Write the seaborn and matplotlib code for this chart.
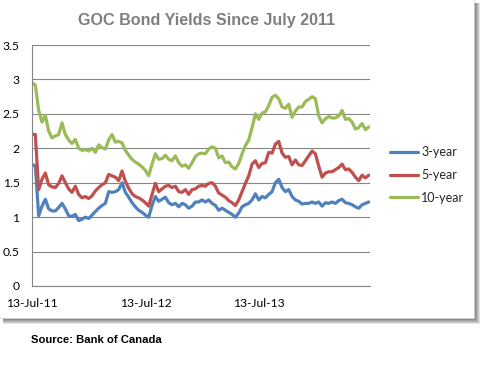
import matplotlib
matplotlib.use("Agg")
import matplotlib.pyplot as plt
from matplotlib.patches import Rectangle
import seaborn as sns
import pandas as pd

# ---------------- data ----------------
series_names = ["3-year", "5-year", "10-year"]
first_date = "2011-07-13"
last_date = "2014-06-30"
n_points = 102

yield_3y = [1.76, 1.75, 1.02, 1.16, 1.26, 1.12, 1.09, 1.09, 1.14, 1.2,
            1.12, 1.02, 1.01, 1.04, 0.95, 0.97, 1.0, 0.98, 1.03, 1.08,
            1.13, 1.17, 1.2, 1.37, 1.36, 1.37, 1.4, 1.5, 1.36, 1.29,
            1.21, 1.15, 1.1, 1.07, 1.03, 1.0, 1.17, 1.3, 1.23, 1.26,
            1.29, 1.21, 1.18, 1.2, 1.15, 1.2, 1.18, 1.13, 1.16, 1.22,
            1.22, 1.25, 1.22, 1.25, 1.2, 1.17, 1.1, 1.13, 1.1, 1.07,
            1.04, 1.0, 1.06, 1.15, 1.18, 1.2, 1.25, 1.34, 1.25, 1.3,
            1.28, 1.33, 1.37, 1.5, 1.55, 1.43, 1.37, 1.4, 1.3, 1.25,
            1.23, 1.19, 1.2, 1.2, 1.22, 1.2, 1.22, 1.16, 1.21, 1.2,
            1.22, 1.2, 1.24, 1.26, 1.21, 1.2, 1.18, 1.15, 1.13, 1.18,
            1.2, 1.22]

yield_5y = [2.2, 2.2, 1.4, 1.55, 1.64, 1.47, 1.44, 1.43, 1.49, 1.6,
            1.5, 1.41, 1.36, 1.45, 1.33, 1.28, 1.3, 1.27, 1.31, 1.38,
            1.43, 1.47, 1.5, 1.62, 1.6, 1.58, 1.53, 1.67, 1.52, 1.42,
            1.34, 1.3, 1.28, 1.25, 1.21, 1.16, 1.33, 1.49, 1.37, 1.41,
            1.45, 1.46, 1.43, 1.45, 1.37, 1.36, 1.4, 1.33, 1.4, 1.41,
            1.45, 1.46, 1.45, 1.49, 1.5, 1.45, 1.35, 1.32, 1.29, 1.24,
            1.21, 1.17, 1.25, 1.37, 1.49, 1.6, 1.77, 1.82, 1.72, 1.78,
            1.79, 1.94, 1.93, 2.06, 2.1, 1.93, 1.87, 1.88, 1.76, 1.83,
            1.76, 1.75, 1.82, 1.89, 1.96, 1.92, 1.74, 1.58, 1.64, 1.66,
            1.66, 1.69, 1.72, 1.77, 1.69, 1.7, 1.65, 1.58, 1.53, 1.61,
            1.57, 1.61]

yield_10y = [2.95, 2.92, 2.55, 2.38, 2.48, 2.25, 2.15, 2.18, 2.2, 2.37,
             2.2, 2.12, 2.07, 2.13, 2.0, 1.97, 1.98, 1.96, 2.0, 1.94,
             2.05, 2.01, 1.99, 2.12, 2.2, 2.09, 2.1, 2.08, 1.97, 1.9,
             1.84, 1.8, 1.77, 1.73, 1.68, 1.6, 1.77, 1.92, 1.84, 1.85,
             1.9, 1.84, 1.82, 1.89, 1.79, 1.74, 1.76, 1.71, 1.79, 1.88,
             1.92, 1.93, 1.92, 1.99, 2.02, 2.0, 1.86, 1.89, 1.79, 1.8,
             1.73, 1.7, 1.78, 1.92, 2.04, 2.12, 2.3, 2.5, 2.42, 2.51,
             2.53, 2.62, 2.74, 2.77, 2.72, 2.6, 2.58, 2.64, 2.45, 2.54,
             2.6, 2.6, 2.68, 2.71, 2.75, 2.72, 2.47, 2.37, 2.43, 2.46,
             2.44, 2.44, 2.47, 2.55, 2.42, 2.43, 2.38, 2.28, 2.3, 2.36,
             2.27, 2.31]

tick_dates = ["2011-07-13", "2012-07-13", "2013-07-13"]
tick_labels = ["13-Jul-11", "13-Jul-12", "13-Jul-13"]
y_ticks = [0, 0.5, 1, 1.5, 2, 2.5, 3, 3.5]
y_tick_labels = ["0", "0.5", "1", "1.5", "2", "2.5", "3", "3.5"]

title_text = "GOC Bond Yields Since July 2011"
source_text = "Source: Bank of Canada"

# ---------------- build long-form table ----------------
dates = pd.date_range(first_date, last_date, periods=n_points)
df = pd.concat([
    pd.DataFrame({"date": dates, "yield": vals, "series": name})
    for name, vals in zip(series_names, [yield_3y, yield_5y, yield_10y])
], ignore_index=True)

# ---------------- figure ----------------
sns.set_theme(style="white")
plt.rcParams["font.family"] = ["Lato", "DejaVu Sans"]

W, H = 483, 370
fig = plt.figure(figsize=(W / 100, H / 100), dpi=100)
fig.patch.set_facecolor("white")

def px_rect(x0, y0, x1, y1, **kw):
    return Rectangle((x0 / W, 1 - y1 / H), (x1 - x0) / W, (y1 - y0) / H,
                     transform=fig.transFigure, **kw)

# drop shadow of the chart box
for d in range(1, 8):
    fig.patches.append(px_rect(3, 3, 473 + d, 317 + d, facecolor="black",
                               edgecolor="none", alpha=0.11, zorder=-10))
fig.patches.append(px_rect(-2, -2, 474, 318, facecolor="white",
                           edgecolor="#d0d0d0", linewidth=0.5, zorder=-9))

ax = fig.add_axes([32 / W, 1 - 286 / H, (370 - 32) / W, (286 - 45) / H])
ax.patch.set_visible(False)

palette = {"3-year": "#4F81BD", "5-year": "#C0504D", "10-year": "#9BBB59"}
sns.lineplot(data=df, x="date", y="yield", hue="series", hue_order=series_names,
             palette=palette, linewidth=2.3, ax=ax, legend=True)

grid_c = "#868686"
ax.set_ylim(0, 3.5)
ax.set_xlim(pd.Timestamp(first_date), pd.Timestamp("2014-07-04"))
ax.set_yticks(y_ticks)
ax.set_yticklabels(y_tick_labels)
ax.set_xticks(pd.to_datetime(tick_dates))
ax.set_xticklabels(tick_labels)
ax.yaxis.grid(True, color=grid_c, linewidth=0.8)
ax.xaxis.grid(False)
ax.set_axisbelow(True)
for s in ["top", "right"]:
    ax.spines[s].set_visible(False)
for s in ["left", "bottom"]:
    ax.spines[s].set_color(grid_c)
    ax.spines[s].set_linewidth(0.8)
ax.tick_params(axis="both", direction="out", length=4, width=0.8, color=grid_c,
               labelsize=8.7, labelcolor="black", pad=4.5)
ax.tick_params(axis="y", pad=5)
ax.set_xlabel("")
ax.set_ylabel("")

handles, labels = ax.get_legend_handles_labels()
ax.legend(handles, labels, loc="center left",
          bbox_to_anchor=(390 / W, 1 - 175 / H), bbox_transform=fig.transFigure,
          frameon=False, fontsize=9.0, handlelength=2.2, handletextpad=0.3,
          labelspacing=0.85, borderpad=0, borderaxespad=0)

fig.text(207 / W, 1 - 20 / H, title_text, ha="center", va="center",
         color="#7f7f7f", fontsize=11.6, fontweight="bold",
         family=["Liberation Sans", "DejaVu Sans"])
fig.text(31 / W, 1 - 340 / H, source_text, ha="left", va="center",
         color="black", fontsize=8.1, fontweight="bold",
         family=["Liberation Sans", "DejaVu Sans"])

fig.savefig("out.png", dpi=100, facecolor="white")
